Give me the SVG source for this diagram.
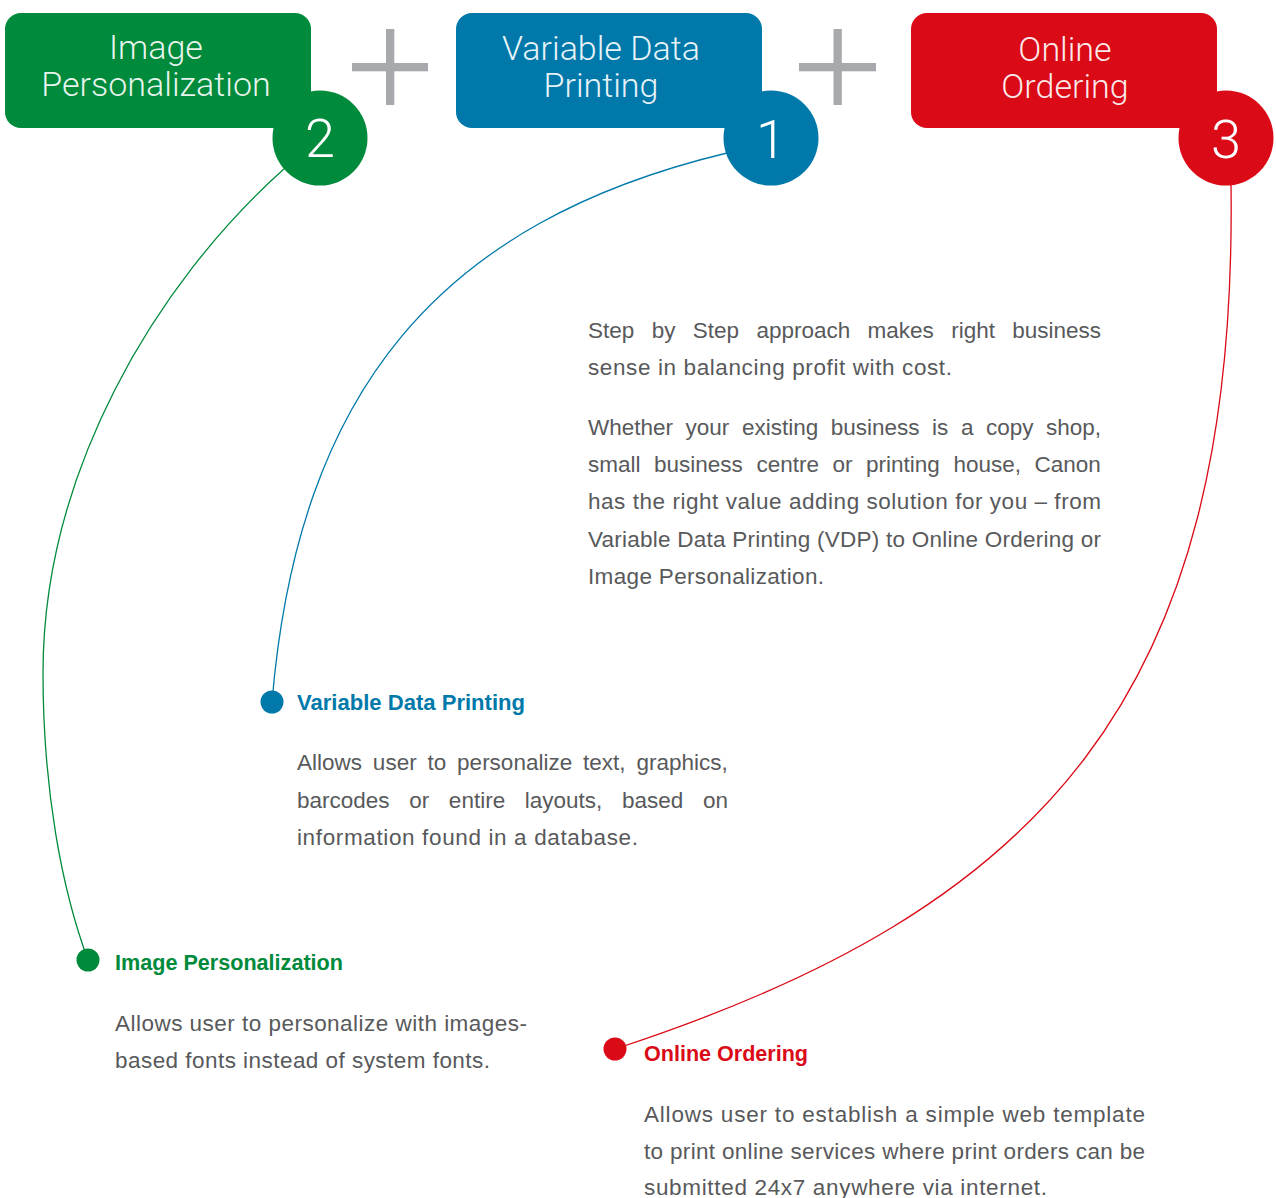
<svg xmlns="http://www.w3.org/2000/svg" width="1276" height="1198" viewBox="0 0 1276 1198">
<style>
.title{font-family:Roboto,"Liberation Sans",sans-serif;font-weight:300;font-size:34px;fill:#fff;fill-opacity:0.92;text-anchor:middle}
.num{font-family:Roboto,"Liberation Sans",sans-serif;font-weight:300;font-size:54px;fill:#fff;text-anchor:middle}
.body{font-family:"Liberation Sans",Arial,sans-serif;font-size:22.5px;fill:#58595b}
.head{font-family:"Liberation Sans",Arial,sans-serif;font-size:22px;font-weight:bold}
.plus{fill:#a7a9ac}
.conn{fill:none;stroke-width:1.3}
.g{fill:#008a3b}.b{fill:#0079aa}.r{fill:#da0a16}
</style>
<rect width="1276" height="1198" fill="#fff"/>
<g id="connectors">
<path class="conn" stroke="#008a3b" d="M285,168 C155,284 43,473 43,673 C43,790 62,890 88,960"/>
<path class="conn" stroke="#0079aa" d="M727,153 C440,222 298,390 272,702"/>
<path class="conn" stroke="#da0a16" d="M1231,185 C1238,700 1040,910 615,1049"/>
</g>
<g id="node-image-personalization">
<rect class="g" x="5" y="13" width="306" height="115" rx="16"/>
<circle class="g" cx="320" cy="138" r="47.5"/>
<text class="title" x="156" y="59">Image</text>
<text class="title" x="156" y="96">Personalization</text>
<text class="num" x="320" y="157">2</text>
</g>
<g id="plus-1" class="plus">
<rect x="386" y="29" width="8.3" height="76"/>
<rect x="352" y="63" width="76" height="8.3"/>
</g>
<g id="node-variable-data-printing">
<rect class="b" x="456" y="13" width="306" height="115" rx="16"/>
<circle class="b" cx="771" cy="138" r="47.5"/>
<text class="title" x="601" y="60">Variable Data</text>
<text class="title" x="601" y="97">Printing</text>
<text class="num" x="771" y="158">1</text>
</g>
<g id="plus-2" class="plus">
<rect x="833.5" y="29" width="8.3" height="76"/>
<rect x="799" y="63" width="77" height="8.3"/>
</g>
<g id="node-online-ordering">
<rect class="r" x="911" y="13" width="306" height="115" rx="16"/>
<circle class="r" cx="1226" cy="138" r="47.5"/>
<text class="title" x="1065" y="61">Online</text>
<text class="title" x="1065" y="98">Ordering</text>
<text class="num" x="1226" y="158">3</text>
</g>
<g id="intro-text" class="body">
<text x="588" y="338" style="word-spacing:11.1px">Step by Step approach makes right business</text>
<text x="588" y="375" textLength="364" lengthAdjust="spacing">sense in balancing profit with cost.</text>
<text x="588" y="435" style="word-spacing:6.3px">Whether your existing business is a copy shop,</text>
<text x="588" y="472" style="word-spacing:7.3px">small business centre or printing house, Canon</text>
<text x="588" y="509" textLength="513" lengthAdjust="spacing">has the right value adding solution for you – from</text>
<text x="588" y="547" textLength="513" lengthAdjust="spacing">Variable Data Printing (VDP) to Online Ordering or</text>
<text x="588" y="584" textLength="236" lengthAdjust="spacing">Image Personalization.</text>
</g>
<g id="desc-variable-data-printing">
<circle class="b" cx="272" cy="702" r="11.5"/>
<text class="head b" x="297" y="710" textLength="228" lengthAdjust="spacingAndGlyphs">Variable Data Printing</text>
<g class="body">
<text x="297" y="770" style="word-spacing:4.6px">Allows user to personalize text, graphics,</text>
<text x="297" y="808" style="word-spacing:13.4px">barcodes or entire layouts, based on</text>
<text x="297" y="845" textLength="341" lengthAdjust="spacing">information found in a database.</text>
</g>
</g>
<g id="desc-image-personalization">
<circle class="g" cx="88" cy="960" r="11.5"/>
<text class="head g" x="115" y="970" textLength="228" lengthAdjust="spacingAndGlyphs">Image Personalization</text>
<g class="body">
<text x="115" y="1031" textLength="412" lengthAdjust="spacing">Allows user to personalize with images-</text>
<text x="115" y="1068" textLength="375" lengthAdjust="spacing">based fonts instead of system fonts.</text>
</g>
</g>
<g id="desc-online-ordering">
<circle class="r" cx="615" cy="1049" r="11.5"/>
<text class="head r" x="644" y="1061" textLength="164" lengthAdjust="spacingAndGlyphs">Online Ordering</text>
<g class="body">
<text x="644" y="1122" textLength="501" lengthAdjust="spacing">Allows user to establish a simple web template</text>
<text x="644" y="1159" textLength="501" lengthAdjust="spacing">to print online services where print orders can be</text>
<text x="644" y="1195" textLength="403" lengthAdjust="spacing">submitted 24x7 anywhere via internet.</text>
</g>
</g>
</svg>
